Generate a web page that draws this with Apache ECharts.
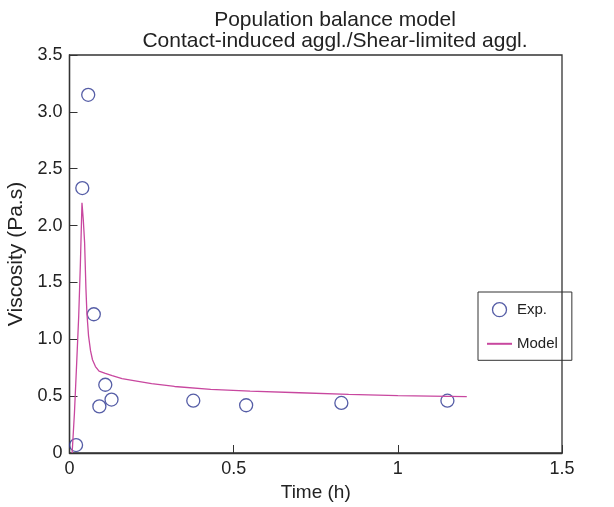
<!DOCTYPE html>
<html>
<head>
<meta charset="utf-8">
<script src="https://cdn.jsdelivr.net/npm/echarts@6/dist/echarts.min.js"></script>
<style>
  html, body { margin: 0; padding: 0; background: #fff; }
  #main { width: 614px; height: 507px; }
</style>
</head>
<body>
<div id="main"></div>
<script>
// measured points (time in h, viscosity in Pa.s)
var expTime = [0.02, 0.039, 0.057, 0.074, 0.091, 0.109, 0.128, 0.377, 0.538, 0.828, 1.151];
var expVisc = [0.07, 2.33, 3.15, 1.22, 0.41, 0.60, 0.47, 0.46, 0.42, 0.44, 0.46];

// model curve
var modelTime = [0.008, 0.015, 0.022, 0.028, 0.033, 0.038, 0.042, 0.046, 0.05, 0.053, 0.058, 0.064, 0.07, 0.079, 0.09, 0.109, 0.13, 0.16, 0.2, 0.25, 0.32, 0.43, 0.55, 0.7, 0.85, 1.0, 1.1, 1.21];
var modelVisc = [0.0, 0.35, 0.8, 1.2, 1.65, 2.2, 2.05, 1.85, 1.45, 1.23, 1.03, 0.9, 0.82, 0.76, 0.72, 0.70, 0.68, 0.655, 0.635, 0.61, 0.585, 0.56, 0.545, 0.53, 0.515, 0.505, 0.5, 0.495];

var xTicks = [0, 0.5, 1, 1.5];

var chart = echarts.init(document.getElementById('main'));
var txt = '#222';

option = {
  backgroundColor: '#fff',
  animation: false,
  textStyle: { fontFamily: 'Liberation Sans, Arial, sans-serif' },
  title: {
    text: 'Population balance model\nContact-induced aggl./Shear-limited aggl.',
    left: 330,
    top: 5,
    textAlign: 'center',
    textStyle: { fontSize: 21, fontWeight: 'normal', color: txt, lineHeight: 21 }
  },
  grid: {
    left: 69.5, right: 52, top: 55, bottom: 54,
    outerBoundsMode: 'none',
    show: true, borderColor: '#333', borderWidth: 1.3, backgroundColor: 'transparent'
  },
  legend: {
    orient: 'vertical',
    left: 478, top: 292,
    padding: [10, 14, 9, 8],
    itemGap: 19,
    itemWidth: 25, itemHeight: 14,
    borderColor: '#333', borderWidth: 1,
    textStyle: { fontSize: 15, color: txt },
    data: [
      { name: 'Exp.', icon: 'circle', itemStyle: { color: 'transparent', borderColor: '#2b3590', borderWidth: 1.3 } },
      { name: 'Model', itemStyle: { opacity: 0 } }
    ]
  },
  xAxis: {
    type: 'value', min: xTicks[0], max: xTicks[xTicks.length - 1], interval: 0.5,
    name: 'Time (h)', nameLocation: 'middle', nameGap: 29,
    nameTextStyle: { fontSize: 19, color: txt },
    axisLine: { lineStyle: { color: '#333', width: 1.3 } },
    axisTick: { inside: true, length: 8, lineStyle: { color: '#333' } },
    axisLabel: { fontSize: 18, color: txt, margin: 7 },
    splitLine: { show: false }
  },
  yAxis: {
    type: 'value', min: 0, max: 3.5, interval: 0.5,
    name: 'Viscosity (Pa.s)', nameLocation: 'middle', nameGap: 35,
    nameTextStyle: { fontSize: 21, color: txt },
    axisLine: { lineStyle: { color: '#333', width: 1.3 } },
    axisTick: { inside: true, length: 8, lineStyle: { color: '#333' } },
    axisLabel: {
      fontSize: 18, color: txt, margin: 7,
      formatter: function (v) { return v === 0 ? '0' : v.toFixed(1); }
    },
    splitLine: { show: false }
  },
  series: [
    {
      name: 'Model',
      type: 'line',
      symbol: 'none',
      smooth: false,
      lineStyle: { color: '#c8479f', width: 1.3 },
      itemStyle: { color: '#c8479f' },
      data: modelTime.map(function (t, i) { return [t, modelVisc[i]]; })
    },
    {
      name: 'Exp.',
      type: 'scatter',
      symbol: 'circle',
      symbolSize: 13,
      itemStyle: { color: 'transparent', borderColor: '#2b3590', borderWidth: 1.3 },
      data: expTime.map(function (t, i) { return [t, expVisc[i]]; })
    }
  ]
};
chart.setOption(option);
</script>
</body>
</html>
